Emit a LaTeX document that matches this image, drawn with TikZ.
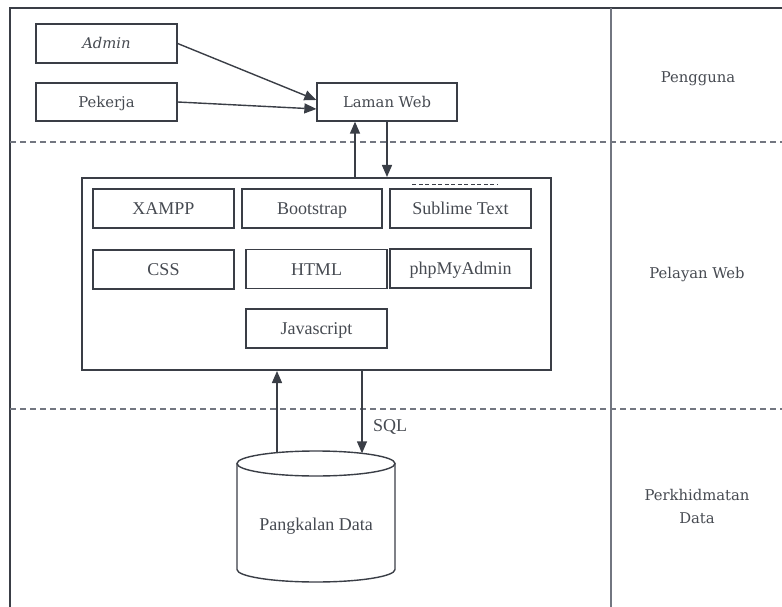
\documentclass[tikz,border=0pt]{standalone}
\usepackage{fontspec}
\setmainfont{Liberation Serif}
\newfontfamily\lblfont{DejaVu Serif}
\usetikzlibrary{arrows.meta,calc}
\definecolor{linec}{HTML}{3A3E46}
\definecolor{textc}{HTML}{464A51}
\definecolor{divc}{HTML}{727680}
\begin{document}
\begin{tikzpicture}[x=1pt,y=-1pt,
  every node/.style={text=textc},
  box/.style={draw=linec,line width=1.3pt,minimum width=141pt,minimum height=39pt,inner sep=0pt,text height=12pt,text depth=0pt,font=\fontsize{18}{20}\selectfont},
  ubox/.style={box,text height=11pt,text depth=0pt,font=\lblfont\fontsize{14.8}{17}\selectfont},
  arr/.style={draw=linec,line width=1.4pt,-{Triangle[length=12pt,width=10pt]}},
  sep/.style={draw=divc,line width=1.6pt,dash pattern=on 6pt off 4pt},
  frame/.style={draw=linec,line width=2pt},
  lbl/.style={font=\lblfont\fontsize{14.8}{23}\selectfont,align=center}]
\useasboundingbox (0,0) rectangle (782,607);
% frame
\draw[frame] (10,607) -- (10,8) -- (782,8);
\draw[draw=divc,line width=2pt] (610.5,8) -- (610.5,607);
\draw[sep] (10,142) -- (782,142);
\draw[sep] (10,409) -- (782,409);
% right labels
\node[lbl] (lp) at (698,79) {Pengguna};
\node[lbl] (lw) at (697,275) {Pelayan Web};
\node[lbl] (ld) at (697,506) {Perkhidmatan\\Data};
% top boxes
\node[ubox] (admin) at (106.5,43.5) {\itshape Admin};
\node[ubox,minimum height=38pt] (pekerja) at (106.5,102) {Pekerja};
\node[ubox,minimum width=140pt,minimum height=38pt] (laman) at (387,102) {Laman Web};
\draw[arr] (admin.east) -- ($(laman.west)+(0,-2)$);
\draw[arr] (pekerja.east) -- ($(laman.west)+(0,7)$);
% main box
\node[draw=linec,line width=2pt,minimum width=469pt,minimum height=192pt,inner sep=0pt] (main) at (316.5,274) {};
\node[box] (xampp) at (163.5,208.5) {XAMPP};
\node[box,minimum width=140pt] (boot) at (312,208.5) {Bootstrap};
\node[box] (subl) at (460.5,208.5) {Sublime Text};
\node[box] (css) at (163.5,269.5) {CSS};
\node[box] (html) at (316.5,269) {HTML};
\node[box] (php) at (460.5,268.5) {phpMyAdmin};
\node[box] (js) at (316.5,328.5) {Javascript};
\draw[draw=linec,line width=1.2pt,dash pattern=on 4pt off 2.5pt] ($(subl.north west)+(23,-4)$) -- ($(subl.north west)+(108,-4)$);
% arrows laman <-> main
\coordinate (c1) at (355,0);
\coordinate (c2) at (387,0);
\draw[arr] (main.north -| c1) -- (laman.south -| c1);
\draw[arr] (laman.south -| c2) -- (main.north -| c2);
% database
\draw[draw=linec,line width=1.4pt] (316,463.5) ellipse[x radius=79,y radius=12.5];
\draw[draw=linec,line width=1.4pt] (237,463.5) -- (237,569.5) arc[start angle=180,end angle=0,x radius=79,y radius=12.5] -- (395,463.5);
\node[font=\fontsize{18}{20}\selectfont] (db) at (316,526) {Pangkalan Data};
\coordinate (dbA) at (277,452.5);
\coordinate (dbB) at (362,453.3);
\draw[arr] (dbA) -- (main.south -| dbA);
\draw[arr] (main.south -| dbB) -- (dbB);
\node[font=\fontsize{18}{20}\selectfont] (sql) at (390,427) {SQL};
\end{tikzpicture}
\end{document}
